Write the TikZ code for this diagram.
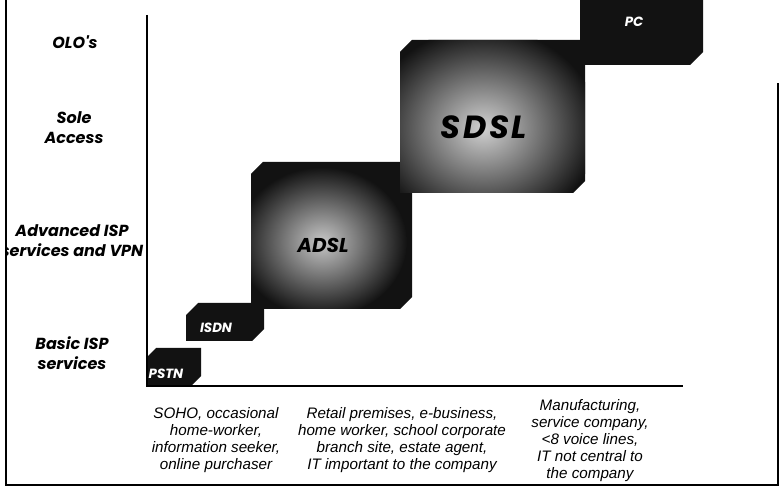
\documentclass[tikz,border=0pt]{standalone}
\usepackage{fontspec}
\setmainfont{Liberation Sans}
\newfontfamily\gothic{Poppins}
\begin{document}
% Outline of a block seen from the front, with its top and right faces:
% #1 left, #2 top, #3 right, #4 bottom (outer extents), #5 depth
\newcommand\blockpath[5]{({#1},{#4}) -- ({#1},{#2+#5}) -- ({#1+#5},{#2}) -- ({#3},{#2}) -- ({#3},{#4-#5}) -- ({#3-#5},{#4}) -- cycle}
\begin{tikzpicture}[x=0.75pt,y=-0.75pt,
  blk/.style={fill=black!93},
  axisline/.style={line width=1.5pt},
  frameline/.style={line width=1.6pt},
  tier/.style={font=\gothic\bfseries\itshape\fontsize{12}{15}\selectfont, align=center, inner sep=0pt},
  segment/.style={font=\itshape\fontsize{11.4}{12.75}\selectfont, align=center, inner sep=0pt},
  smalltag/.style={text=white, font=\gothic\bfseries\itshape\fontsize{10}{12}\selectfont, inner sep=0pt},
  bigtag/.style={text=black, font=\gothic\bfseries\itshape, inner sep=0pt}]
\useasboundingbox (0,0) rectangle (779,495);

% blocks, from the lowest tier upwards
\fill[blk] \blockpath{146}{348}{201}{386}{10};
\fill[blk] \blockpath{186}{303}{264}{341}{12};
\fill[blk] \blockpath{251}{162}{412}{309}{12};
\begin{scope}
  \clip \blockpath{251}{162}{412}{309}{12};
  \shade[inner color=black!22, outer color=black!93] (322,242) ellipse [x radius=85, y radius=75];
\end{scope}
\fill[blk] \blockpath{400}{40}{585}{193}{12};
\begin{scope}
  \clip \blockpath{400}{40}{585}{193}{12};
  \shade[inner color=black!18, outer color=black!93] (483,128) ellipse [x radius=115, y radius=100];
\end{scope}
\fill[blk] \blockpath{580}{-20}{703}{65}{13};

% block names
\node[smalltag] (pstn) at (166,374) {PSTN};
\node[smalltag] (isdn) at (216,328) {ISDN};
\node[bigtag, font=\gothic\bfseries\itshape\fontsize{15}{18}\selectfont] (adsl) at (323,245) {ADSL};
\node[bigtag, font=\gothic\bfseries\itshape\fontsize{24}{28}\selectfont\addfontfeatures{LetterSpace=8}] (sdsl) at (484,127) {SDSL};
\node[smalltag] (pc) at (634,22) {PC};

% axes
\coordinate (top) at (147,15);
\coordinate (origin) at (147,386);
\coordinate (xend) at (683,386);
\draw[axisline] (top) -- (origin) -- (xend);

% service tiers
\node[tier] (olo) at (75,42) {OLO's};
\node[tier] (sole) at (74,128) {Sole\\Access};
\begin{scope}
  \clip (7,0) rectangle (146,495);
  \node[tier] (adv) at (72,241) {Advanced ISP\\services and VPN};
\end{scope}
\node[tier] (basic) at (72,353) {Basic ISP\\services};

% customer segments
\node[segment] (seg1) at (216,440) {SOHO, occasional\\home-worker,\\information seeker,\\online purchaser};
\node[segment] (seg2) at (402,440) {Retail premises, e-business,\\home worker, school corporate\\branch site, estate agent,\\IT important to the company};
\node[segment] (seg3) at (590,441) {Manufacturing,\\service company,\\<8 voice lines,\\IT not central to\\the company};

% frame
\coordinate (ftl) at (6,0);
\coordinate (fbl) at (6,485);
\coordinate (fbr) at (778,485);
\coordinate (ftr) at (778,83);
\draw[frameline] (ftl) -- (fbl) -- (fbr) -- (ftr);
\end{tikzpicture}
\end{document}
